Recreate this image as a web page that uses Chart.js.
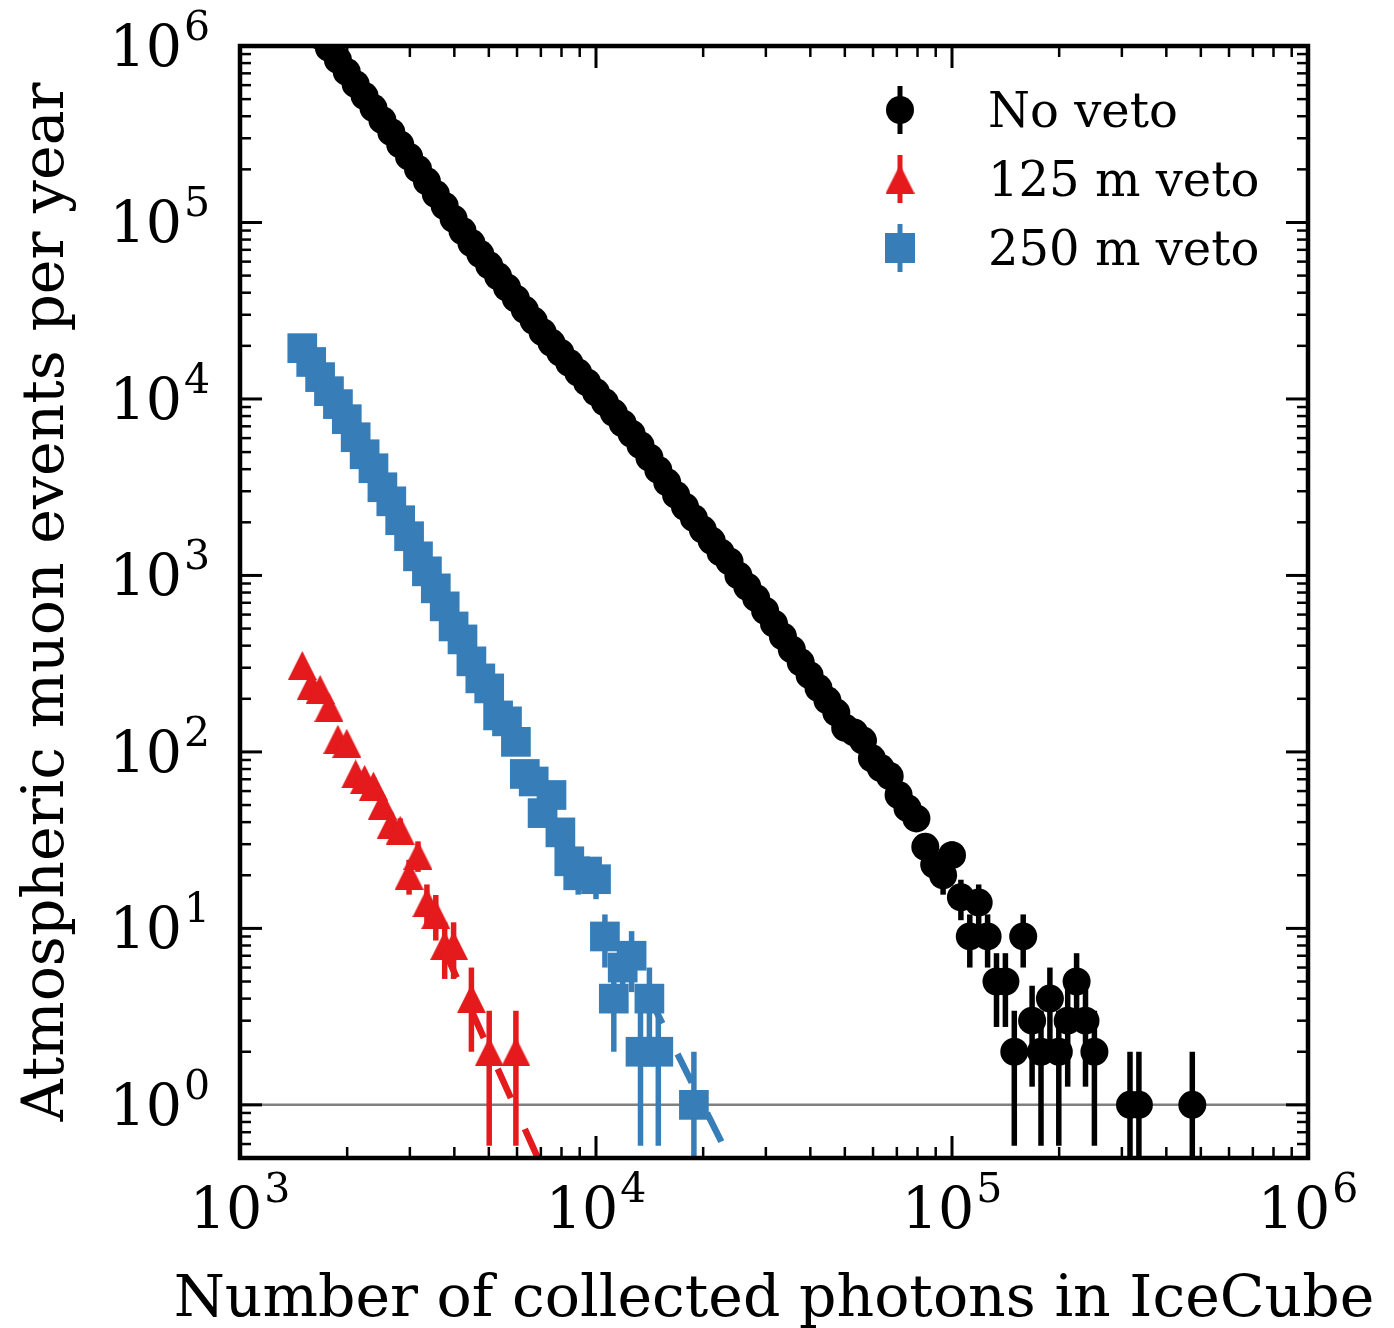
<!DOCTYPE html>
<html>
<head>
<meta charset="utf-8">
<title>Atmospheric muon events per year</title>
<script src="https://cdn.jsdelivr.net/npm/chart.js@4.4.1/dist/chart.umd.min.js"></script>
<style>
  html, body { margin: 0; padding: 0; background: #fff; }
  #wrap { width: 1394px; height: 1328px; }
</style>
</head>
<body>
<div id="wrap"><canvas id="muonChart" width="1394" height="1328"></canvas></div>
<script>
// photon-count bins (log-spaced, 0.025 dex) and events per year

const noVetoPhotons = [
    1496, 1585, 1679, 1778, 1884, 1995, 2113, 2239, 2371, 2512,
    2661, 2818, 2985, 3162, 3350, 3548, 3758, 3981, 4217, 4467,
    4732, 5012, 5309, 5623, 5957, 6310, 6683, 7079, 7499, 7943,
    8414, 8913, 9441, 10000, 10593, 11220, 11885, 12589, 13335, 14125,
    14962, 15849, 16788, 17783, 18836, 19953, 21135, 22387, 23714, 25119,
    26607, 28184, 29854, 31623, 33497, 35481, 37584, 39811, 42170, 44668,
    47315, 50119, 53088, 56234, 59566, 63096, 66834, 70795, 74989, 79433,
    84140, 89125, 94406, 100000, 105925, 112202, 118850, 125893, 133352, 141254,
    149624, 158489, 167880, 177828, 188365, 199526, 211349, 223872, 237137, 251189,
    316228, 334965, 473151
];
const noVetoEvents = [
    1563000, 1334000, 1140000, 975000, 834000, 713000, 608000, 520000, 445000, 380000,
    325000, 277000, 236000, 201000, 171000, 145000, 124000, 105000, 89500, 76500,
    66200, 57200, 49500, 42800, 37000, 32000, 27700, 23900, 20800, 18300,
    16000, 14100, 12400, 10900, 9570, 8340, 7270, 6350, 5470, 4660,
    3960, 3370, 2860, 2450, 2110, 1820, 1570, 1350, 1200, 1000,
    863, 743, 631, 533, 451, 381, 322, 272, 230, 196,
    167, 137, 129, 116, 92, 81, 73, 57, 48, 42,
    29, 23, 20, 26, 15, 9, 14, 9, 5, 5,
    2, 9, 3, 2, 4, 2, 3, 5, 3, 2,
    1, 1, 1
];

const veto125Photons = [
    1496, 1585, 1679, 1778, 1884, 1995, 2113, 2239, 2371, 2512,
    2661, 2818, 2985, 3162, 3350, 3548, 3758, 3981, 4467, 5012, 5957
];
const veto125Events = [
    309, 238, 226, 179, 118, 112, 75, 70, 64, 50,
    39, 36, 20, 26, 14, 12, 8, 8, 4, 2, 2
];

const veto250Photons = [
    1496, 1585, 1679, 1778, 1884, 1995, 2113, 2239, 2371, 2512,
    2661, 2818, 2985, 3162, 3350, 3548, 3758, 3981, 4217, 4467,
    4732, 5012, 5309, 5623, 5957, 6310, 6683, 7079, 7499, 7943,
    8414, 8913, 9441, 10000, 10593, 11220, 11885, 12589, 13335, 14125,
    14962, 18836
];
const veto250Events = [
    19400, 16200, 13300, 11070, 9350, 7680, 6070, 4860, 4050, 3160,
    2630, 2055, 1668, 1283, 1055, 845, 668, 514, 434, 326,
    261, 229, 161, 149, 114, 75, 68, 45, 57, 35,
    24, 20, 21, 19, 9, 4, 6, 7, 2, 4,
    2, 1
];

// dashed trend lines drawn under the veto points
const veto125FitPhotons = [3418, 7029];
const veto125FitEvents = [11.4, 0.45];
const veto250FitPhotons = [13295, 24330];
const veto250FitEvents = [5.18, 0.45];

const xTickValues = [1e3, 1e4, 1e5, 1e6];
const yTickValues = [1, 10, 100, 1e3, 1e4, 1e5, 1e6];
const referenceLevel = 1;

const FONT = "'DejaVu Serif', 'Liberation Serif', serif";
const BLACK = '#000000';
const RED = '#e41a1c';
const BLUE = '#377eb8';
const TICK_SIZE = 57;
const SUP_SIZE = 41;
const TITLE_SIZE = 58.5;
const xTitle = 'Number of collected photons in IceCube';
const yTitle = 'Atmospheric muon events per year';

function toPoints(xs, ys) {
    return xs.map((x, i) => ({x: x, y: ys[i]}));
}

function makeTriangle(color, size) {
    const c = document.createElement('canvas');
    c.width = size;
    c.height = size;
    const g = c.getContext('2d');
    g.fillStyle = color;
    g.beginPath();
    g.moveTo(size / 2, 0);
    g.lineTo(size, size);
    g.lineTo(0, size);
    g.closePath();
    g.fill();
    return c;
}
const triangle = makeTriangle(RED, 29);

function minorValues(min, max) {
    const out = [];
    for (let e = Math.floor(Math.log10(min)); e <= Math.ceil(Math.log10(max)); e++) {
        for (let k = 2; k <= 9; k++) {
            const v = k * Math.pow(10, e);
            if (v >= min && v <= max) out.push(v);
        }
    }
    return out;
}

function line(ctx, x1, y1, x2, y2) {
    ctx.beginPath();
    ctx.moveTo(x1, y1);
    ctx.lineTo(x2, y2);
    ctx.stroke();
}

// "10" with a raised exponent, like the mathtext labels of the original
function drawDecadeLabel(ctx, v, x, baseline, align) {
    const exp = String(Math.round(Math.log10(v)));
    const main = TICK_SIZE + 'px ' + FONT;
    const small = SUP_SIZE + 'px ' + FONT;
    ctx.font = main;
    const w1 = ctx.measureText('10').width;
    ctx.font = small;
    const w2 = ctx.measureText(exp).width;
    const total = w1 + 2 + w2;
    const left = align === 'center' ? x - total / 2 : x - total;
    ctx.textAlign = 'left';
    ctx.textBaseline = 'alphabetic';
    ctx.font = main;
    ctx.fillText('10', left, baseline);
    ctx.font = small;
    ctx.fillText(exp, left + w1 + 2, baseline - 26);
}

const legendItems = [
    {label: 'No veto', color: BLACK, marker: 'circle'},
    {label: '125 m veto', color: RED, marker: 'triangle'},
    {label: '250 m veto', color: BLUE, marker: 'square'}
];

function drawMarker(ctx, kind, color, x, y) {
    ctx.fillStyle = color;
    if (kind === 'circle') {
        ctx.beginPath();
        ctx.arc(x, y, 14, 0, Math.PI * 2);
        ctx.fill();
    } else if (kind === 'triangle') {
        ctx.drawImage(triangle, x - triangle.width / 2, y - triangle.height / 2);
    } else {
        ctx.fillRect(x - 15, y - 15, 30, 30);
    }
}

const decorations = {
    id: 'decorations',
    beforeDatasetsDraw(chart) {
        const {ctx, chartArea: a, scales: {y}} = chart;
        const py = y.getPixelForValue(referenceLevel);
        ctx.save();
        ctx.strokeStyle = '#808080';
        ctx.lineWidth = 2.5;
        line(ctx, a.left, py, a.right, py);
        ctx.restore();
    },
    beforeDatasetDraw(chart, args) {
        const ds = chart.data.datasets[args.index];
        if (!ds.errorBars) return;
        const {ctx, chartArea: a, scales: {y}} = chart;
        ctx.save();
        ctx.beginPath();
        ctx.rect(a.left, a.top, a.width, a.height);
        ctx.clip();
        ctx.strokeStyle = ds.backgroundColor;
        ctx.lineWidth = 5.5;
        args.meta.data.forEach((pt, i) => {
            const n = ds.data[i].y;
            const err = Math.sqrt(n); // counting error
            const top = y.getPixelForValue(n + err);
            const bottom = n - err > 0 ? y.getPixelForValue(n - err) : a.bottom + 5;
            line(ctx, pt.x, top, pt.x, bottom);
        });
        ctx.restore();
    },
    afterDraw(chart) {
        const {ctx, chartArea: a, scales: {x, y}} = chart;
        ctx.save();
        ctx.strokeStyle = '#000';

        // inward ticks on all four sides
        ctx.lineWidth = 3;
        xTickValues.forEach(v => {
            const px = x.getPixelForValue(v);
            line(ctx, px, a.bottom, px, a.bottom - 22);
            line(ctx, px, a.top, px, a.top + 22);
        });
        yTickValues.forEach(v => {
            const py = y.getPixelForValue(v);
            line(ctx, a.left, py, a.left + 22, py);
            line(ctx, a.right, py, a.right - 22, py);
        });
        ctx.lineWidth = 2.5;
        minorValues(x.min, x.max).forEach(v => {
            const px = x.getPixelForValue(v);
            line(ctx, px, a.bottom, px, a.bottom - 11);
            line(ctx, px, a.top, px, a.top + 11);
        });
        minorValues(y.min, y.max).forEach(v => {
            const py = y.getPixelForValue(v);
            line(ctx, a.left, py, a.left + 11, py);
            line(ctx, a.right, py, a.right - 11, py);
        });

        ctx.lineWidth = 4.5;
        ctx.strokeRect(a.left, a.top, a.width, a.height);

        // tick labels
        ctx.fillStyle = '#000';
        xTickValues.forEach(v => {
            drawDecadeLabel(ctx, v, x.getPixelForValue(v), a.bottom + 70, 'center');
        });
        yTickValues.forEach(v => {
            drawDecadeLabel(ctx, v, a.left - 30, y.getPixelForValue(v) + 20, 'right');
        });

        // x axis title (wider than the plot, so drawn here without squeezing)
        ctx.font = TITLE_SIZE + 'px ' + FONT;
        ctx.textAlign = 'center';
        ctx.textBaseline = 'alphabetic';
        ctx.fillText(xTitle, (a.left + a.right) / 2, a.bottom + 158);

        // legend
        ctx.font = '48px ' + FONT;
        ctx.textAlign = 'left';
        legendItems.forEach((item, i) => {
            const my = a.top + 64 + 69 * i;
            const mx = a.right - 408;
            ctx.strokeStyle = item.color;
            ctx.lineWidth = 5;
            line(ctx, mx, my - 24, mx, my + 24);
            drawMarker(ctx, item.marker, item.color, mx, my);
            ctx.fillStyle = '#000';
            ctx.fillText(item.label, a.right - 320, my + 17);
        });
        ctx.restore();
    }
};

new Chart(document.getElementById('muonChart'), {
    type: 'scatter',
    data: {
        datasets: [
            {
                label: 'No veto',
                data: toPoints(noVetoPhotons, noVetoEvents),
                backgroundColor: BLACK,
                borderColor: BLACK,
                pointStyle: 'circle',
                pointRadius: 14,
                pointBorderWidth: 0,
                errorBars: true,
                order: 3
            },
            {
                label: '125 m veto',
                data: toPoints(veto125Photons, veto125Events),
                backgroundColor: RED,
                borderColor: RED,
                pointStyle: triangle,
                pointRadius: 14,
                pointBorderWidth: 0,
                errorBars: true,
                order: 2
            },
            {
                label: '250 m veto',
                data: toPoints(veto250Photons, veto250Events),
                backgroundColor: BLUE,
                borderColor: BLUE,
                pointStyle: 'rect',
                pointRadius: 21,
                pointBorderWidth: 0,
                errorBars: true,
                order: 1
            },
            {
                label: '125 m trend',
                data: toPoints(veto125FitPhotons, veto125FitEvents),
                showLine: true,
                borderColor: RED,
                borderWidth: 6.5,
                borderDash: [32, 34],
                borderDashOffset: 33,
                pointRadius: 0,
                order: 10
            },
            {
                label: '250 m trend',
                data: toPoints(veto250FitPhotons, veto250FitEvents),
                showLine: true,
                borderColor: BLUE,
                borderWidth: 6.5,
                borderDash: [32, 34],
                borderDashOffset: 48,
                pointRadius: 0,
                order: 10
            }
        ]
    },
    options: {
        responsive: false,
        animation: false,
        events: [],
        layout: {padding: {left: 0, top: 46, right: 86, bottom: 0}},
        plugins: {
            legend: {display: false},
            tooltip: {enabled: false}
        },
        scales: {
            x: {
                type: 'logarithmic',
                min: 1e3,
                max: 1e6,
                grid: {display: false, drawTicks: false},
                border: {display: false},
                afterBuildTicks: s => { s.ticks = xTickValues.map(v => ({value: v})); },
                afterFit: s => { s.height = 170; },
                ticks: {display: false},
                title: {display: false}
            },
            y: {
                type: 'logarithmic',
                min: 0.5,
                max: 1e6,
                grid: {display: false, drawTicks: false},
                border: {display: false},
                afterBuildTicks: s => { s.ticks = yTickValues.map(v => ({value: v})); },
                afterFit: s => { s.width = 240; },
                ticks: {display: false},
                title: {
                    display: true,
                    text: yTitle,
                    font: {family: FONT, size: TITLE_SIZE},
                    color: '#000',
                    padding: {top: 13, bottom: 0}
                }
            }
        }
    },
    plugins: [decorations]
});
</script>
</body>
</html>
